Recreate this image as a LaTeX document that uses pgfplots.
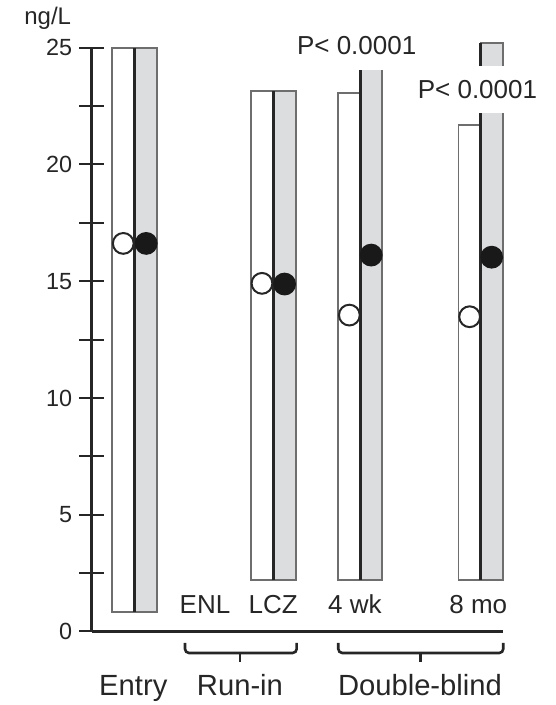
\documentclass[border=0pt]{standalone}
\usepackage{fontspec}
\setmainfont{Liberation Sans}
\usepackage{pgfplots}
\pgfplotsset{compat=1.18}
\definecolor{barg}{HTML}{DCDDDF}
\definecolor{edge}{HTML}{6E6E6E}
\definecolor{txt}{HTML}{262626}
\begin{document}
\begin{tikzpicture}
\begin{axis}[
  scale only axis, width=205.8pt, height=291.9pt,
  xmin=91.7, xmax=503.3, ymin=0, ymax=25,
  axis x line=bottom, axis y line=left,
  axis line style={-, line width=1.3pt, black!85},
  xtick=\empty,
  ytick={0,5,...,25}, minor ytick={2.5,7.5,...,22.5},
  tick align=center, major tick length=12.5pt, minor tick length=12.5pt,
  every tick/.style={line width=1pt, black!85},
  yticklabel style={font=\fontsize{11.7}{12}\selectfont, text=txt},
  /pgf/number format/assume math mode=true,
  clip=false,
]
% ---- Entry
\addplot[fill=white, draw=edge, line width=0.9pt] coordinates {(111.7,0.85) (111.7,25) (135,25) (135,0.85)} -- cycle;
\addplot[fill=barg, draw=edge, line width=0.9pt] coordinates {(135,0.85) (135,25) (157.3,25) (157.3,0.85)} -- cycle;
\addplot[black!85, line width=1.5pt] coordinates {(135,0.85) (135,25)};
% ---- LCZ
\addplot[fill=white, draw=edge, line width=0.9pt] coordinates {(250.7,2.2) (250.7,23.14) (273.3,23.14) (273.3,2.2)} -- cycle;
\addplot[fill=barg, draw=edge, line width=0.9pt] coordinates {(273.3,2.2) (273.3,23.14) (296,23.14) (296,2.2)} -- cycle;
\addplot[black!85, line width=1.5pt] coordinates {(273.3,2.2) (273.3,23.14)};
% ---- 4 wk
\addplot[fill=white, draw=edge, line width=0.9pt] coordinates {(338.3,2.2) (338.3,23.07) (360.5,23.07) (360.5,2.2)} -- cycle;
\addplot[fill=barg, draw=edge, line width=0.9pt] coordinates {(360.5,2.2) (360.5,25.0) (382,25.0) (382,2.2)} -- cycle;
\addplot[black!85, line width=1.5pt] coordinates {(360.5,2.2) (360.5,25.0)};
% ---- 8 mo
\addplot[fill=white, draw=edge, line width=0.9pt] coordinates {(458.5,2.2) (458.5,21.69) (480.7,21.69) (480.7,2.2)} -- cycle;
\addplot[fill=barg, draw=edge, line width=0.9pt] coordinates {(480.7,2.2) (480.7,25.2) (502.8,25.2) (502.8,2.2)} -- cycle;
\addplot[black!85, line width=1.5pt] coordinates {(480.7,2.2) (480.7,25.2)};
% ---- medians
\addplot[only marks, mark=*, mark size=5.2pt, mark options={fill=white, draw=black!85, line width=1pt}]
  coordinates {(123.3,16.62) (262,14.91) (349.4,13.55) (469.7,13.48)};
\addplot[only marks, mark=*, mark size=5.2pt, mark options={fill=black!90, draw=black!90, line width=1pt}]
  coordinates {(146.2,16.62) (284.6,14.88) (371.2,16.12) (491.7,16.03)};
% ---- labels
\node[font=\fontsize{13}{13}\selectfont, anchor=base, text=txt] at (axis cs:205,0.75) {ENL};
\node[font=\fontsize{13}{13}\selectfont, anchor=base, text=txt] at (axis cs:273.3,0.75) {LCZ};
\node[font=\fontsize{13}{13}\selectfont, anchor=base, text=txt] at (axis cs:355,0.75) {4 wk};
\node[font=\fontsize{13}{13}\selectfont, anchor=base, text=txt] at (axis cs:478.3,0.75) {8 mo};
\node[font=\fontsize{13}{13}\selectfont, anchor=base, text=txt, fill=white, inner xsep=2pt, inner ysep=7.6pt] at (axis cs:356.7,24.69) {P< 0.0001};
\node[font=\fontsize{13}{13}\selectfont, anchor=base, text=txt, fill=white, inner xsep=2pt, inner ysep=7.2pt] at (axis cs:477.5,22.83) {P< 0.0001};
\node[font=\fontsize{12}{12}\selectfont, text=txt] at (axis cs:47.7,26.27) {ng/L};
% ---- brackets
\draw[black!85, line width=1.3pt, rounded corners=2pt] (axis cs:185,-0.49) -- (axis cs:185,-0.92) -- (axis cs:296.7,-0.92) -- (axis cs:296.7,-0.49);
\draw[black!85, line width=1.3pt] (axis cs:240,-0.92) -- (axis cs:240,-1.29);
\draw[black!85, line width=1.3pt, rounded corners=2pt] (axis cs:338.3,-0.49) -- (axis cs:338.3,-0.92) -- (axis cs:503.3,-0.92) -- (axis cs:503.3,-0.49);
\draw[black!85, line width=1.3pt] (axis cs:420.7,-0.92) -- (axis cs:420.7,-1.29);
\node[font=\fontsize{14.6}{15}\selectfont, anchor=base, text=txt] at (axis cs:133.3,-2.76) {Entry};
\node[font=\fontsize{14.6}{15}\selectfont, anchor=base, text=txt] at (axis cs:240,-2.76) {Run-in};
\node[font=\fontsize{14.6}{15}\selectfont, anchor=base, text=txt] at (axis cs:420,-2.76) {Double-blind};
\coordinate (bbA) at (axis cs:0,-3.148);
\coordinate (bbB) at (axis cs:556,27.045);
\end{axis}
\pgfresetboundingbox
\path[use as bounding box] (bbA) rectangle (bbB);
\end{tikzpicture}
\end{document}
